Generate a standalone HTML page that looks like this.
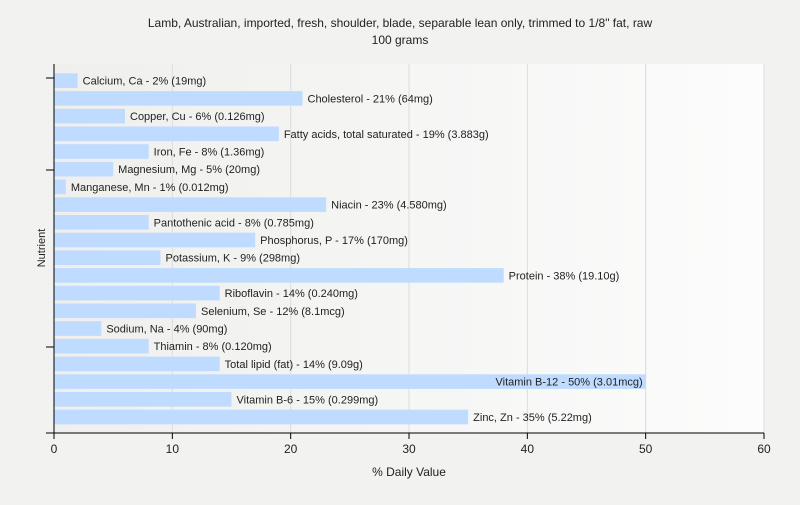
<!DOCTYPE html>
<html><head><meta charset="utf-8"><style>
body{margin:0;background:#f2f2f0;font-family:"Liberation Sans",sans-serif;}
</style></head><body>
<svg id="chart" width="800" height="500" xmlns="http://www.w3.org/2000/svg" font-family="Liberation Sans, sans-serif">
<defs><linearGradient id="bg" x1="0" x2="1" y1="0" y2="0"><stop offset="0" stop-color="#efefed"/><stop offset="1" stop-color="#fcfcfc"/></linearGradient></defs>
<rect width="800" height="500" fill="#f2f2f0"/>
<rect x="54" y="64" width="710" height="369" fill="url(#bg)"/>
<text x="400" y="27" text-anchor="middle" font-size="12" fill="#222">Lamb, Australian, imported, fresh, shoulder, blade, separable lean only, trimmed to 1/8" fat, raw</text>
<text x="400" y="44" text-anchor="middle" font-size="12" fill="#222">100 grams</text>
<g id="grid"></g><g id="bars"></g><g id="axes"></g>
<text x="409" y="476" text-anchor="middle" font-size="12" fill="#222">% Daily Value</text>
<text transform="translate(45,248) rotate(-90)" text-anchor="middle" font-size="11" fill="#222">Nutrient</text>
</svg>
<script>
const labels=["Calcium, Ca - 2% (19mg)","Cholesterol - 21% (64mg)","Copper, Cu - 6% (0.126mg)","Fatty acids, total saturated - 19% (3.883g)","Iron, Fe - 8% (1.36mg)","Magnesium, Mg - 5% (20mg)","Manganese, Mn - 1% (0.012mg)","Niacin - 23% (4.580mg)","Pantothenic acid - 8% (0.785mg)","Phosphorus, P - 17% (170mg)","Potassium, K - 9% (298mg)","Protein - 38% (19.10g)","Riboflavin - 14% (0.240mg)","Selenium, Se - 12% (8.1mcg)","Sodium, Na - 4% (90mg)","Thiamin - 8% (0.120mg)","Total lipid (fat) - 14% (9.09g)","Vitamin B-12 - 50% (3.01mcg)","Vitamin B-6 - 15% (0.299mg)","Zinc, Zn - 35% (5.22mg)"];
const values=[2,21,6,19,8,5,1,23,8,17,9,38,14,12,4,8,14,50,15,35];
const xTicks=[0,10,20,30,40,50,60];
const NS="http://www.w3.org/2000/svg";
const x=v=>54+v*710/60;
const y=i=>80.7+i*17.7;
function mk(t,a,p){const e=document.createElementNS(NS,t);for(const k in a)e.setAttribute(k,a[k]);p.appendChild(e);return e;}
const grid=document.getElementById('grid'),bars=document.getElementById('bars'),axes=document.getElementById('axes');
xTicks.forEach(t=>{
 if(t>0){const g=mk('line',{x1:x(t),x2:x(t),y1:64,y2:433,stroke:'#dcdcdc'},grid);
 
 }
 const tk=mk('line',{x1:x(t),x2:x(t),y1:433,y2:439,stroke:'#000'},axes);
 
 
 const tl=mk('text',{x:x(t),y:453,'text-anchor':'middle','font-size':12,fill:'#222'},axes);
 tl.textContent=t;
 
 
});
values.forEach((v,i)=>{
 const r=mk('rect',{x:54,y:y(i)-7.3,width:x(v)-54,height:14.6,fill:'#bfdbff'},bars);
 
 
 const inside=v>=45;
 const t=mk('text',{x:inside?x(v)-3:x(v)+5,y:y(i)+4,'text-anchor':inside?'end':'start','font-size':11,fill:'#222'},bars);
 t.textContent=labels[i];
 
 
});
const ya=mk('line',{x1:54,x2:54,y1:64,y2:433,stroke:'#000'},axes);


const xa=mk('line',{x1:46,x2:764,y1:433,y2:433,stroke:'#000'},axes);


[78,170,347].forEach((yy,i)=>{
 const l=mk('line',{x1:46,x2:54,y1:yy,y2:yy,stroke:'#000'},axes);
 
 
});
</script>
</body></html>
